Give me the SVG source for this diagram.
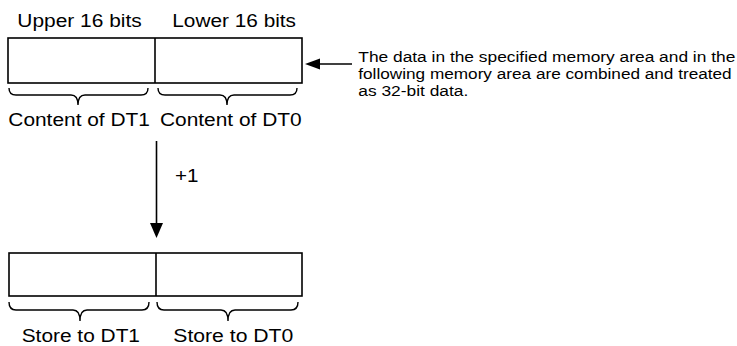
<svg xmlns="http://www.w3.org/2000/svg" width="737" height="346" viewBox="0 0 737 346">
<style>
.big{font-family:"Liberation Sans",Arial,sans-serif;font-size:18px;fill:#000}
.small{font-family:"Liberation Sans",Arial,sans-serif;font-size:15.5px;fill:#000}
.box{fill:#fff;stroke:#000;stroke-width:1.6}
.line{fill:none;stroke:#000;stroke-width:1.6}
.brace{fill:none;stroke:#000;stroke-width:1.4}
</style>
<g id="labels-top">
<text class="big" x="17.3" y="26.5" textLength="124.4" lengthAdjust="spacingAndGlyphs">Upper 16 bits</text>
<text class="big" x="172.3" y="26.5" textLength="123.7" lengthAdjust="spacingAndGlyphs">Lower 16 bits</text>
</g>
<g id="source-register">
<rect class="box" x="8" y="38" width="294" height="45"/>
<line class="line" x1="155" y1="38" x2="155" y2="83"/>
<path class="brace" d="M9,88 Q9,95 16,95 L71,95 Q78,95 78,105 Q78,95 85,95 L141,95 Q148,95 148,88"/>
<path class="brace" d="M158,88 Q158,95 165,95 L220,95 Q227,95 227,105 Q227,95 234,95 L290,95 Q297,95 297,88"/>
<text class="big" x="8.3" y="125.5" textLength="141.6" lengthAdjust="spacingAndGlyphs">Content of DT1</text>
<text class="big" x="160" y="125.5" textLength="141.6" lengthAdjust="spacingAndGlyphs">Content of DT0</text>
</g>
<g id="note">
<text class="small" x="358.3" y="62" textLength="377" lengthAdjust="spacingAndGlyphs">The data in the specified memory area and in the</text>
<text class="small" x="358.3" y="79" textLength="373.4" lengthAdjust="spacingAndGlyphs">following memory area are combined and treated</text>
<text class="small" x="358.3" y="96" textLength="110" lengthAdjust="spacingAndGlyphs">as 32-bit data.</text>
</g>
<g id="dest-register">
<rect class="box" x="9" y="253" width="293" height="43"/>
<line class="line" x1="156" y1="253" x2="156" y2="296"/>
<path class="brace" d="M9,302 Q9,310 16,310 L73,310 Q80,310 80,321 Q80,310 87,310 L142,310 Q149,310 149,302"/>
<path class="brace" d="M157,302 Q157,310 164,310 L221,310 Q228,310 228,321 Q228,310 235,310 L291,310 Q298,310 298,302"/>
<text class="big" x="21.7" y="342" textLength="118.3" lengthAdjust="spacingAndGlyphs">Store to DT1</text>
<text class="big" x="173.3" y="342" textLength="120" lengthAdjust="spacingAndGlyphs">Store to DT0</text>
</g>
<g id="connectors">
<line class="line" x1="156.5" y1="141" x2="156.5" y2="224"/>
<path d="M150,223 L163,223 L156.5,238 Z" fill="#000"/>
<line class="line" x1="352" y1="64" x2="319" y2="64"/>
<path d="M320,58.5 L320,69.5 L305,64 Z" fill="#000"/>
<text class="big" x="175" y="182" textLength="23.5" lengthAdjust="spacingAndGlyphs">+1</text>
</g>
</svg>
